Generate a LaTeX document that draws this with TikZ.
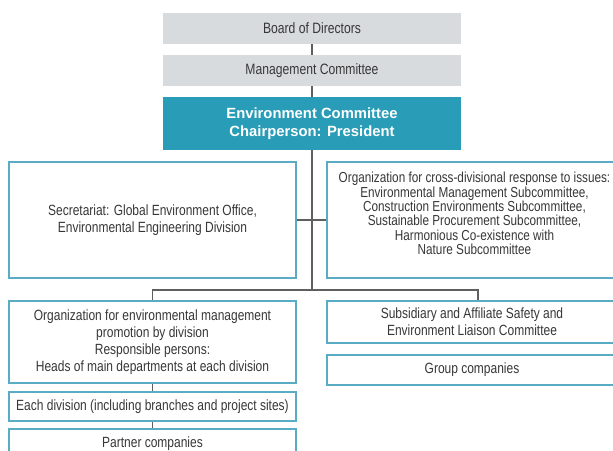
\documentclass[tikz,border=0pt]{standalone}
\usepackage{fontspec}
\setmainfont[FakeStretch=0.81]{Liberation Sans}
\newfontfamily\headfont{Liberation Sans}
\usepackage{tikz}
\usetikzlibrary{positioning,calc}
\definecolor{boardgrey}{RGB}{216,219,222}
\definecolor{envteal}{RGB}{41,156,183}
\definecolor{rimteal}{RGB}{90,172,196}
\definecolor{txtgrey}{RGB}{55,55,55}
\definecolor{linegrey}{RGB}{95,95,95}

\begin{document}
\begin{tikzpicture}[
    x=1pt, y=-1pt,
    greybox/.style={rectangle, fill=boardgrey, minimum width=298pt, minimum height=31pt, inner sep=0pt, text=txtgrey, font=\fontsize{15}{17}\selectfont},
    envbox/.style={rectangle, fill=envteal, minimum width=298pt, minimum height=53pt, inner sep=0pt, text=white, align=center, font=\headfont\bfseries\fontsize{14.8}{17.7}\selectfont},
    orgbox/.style={rectangle, draw=rimteal, line width=1.2pt, fill=white, inner sep=0pt, text=txtgrey, align=center, font=\fontsize{14.8}{17}\selectfont},
    link/.style={draw=linegrey, line width=1.3pt}
]
    \useasboundingbox (0,0) rectangle (613,450);
    \clip (0,0) rectangle (613,450);

    \node[greybox] (board) at (312,28.5) {Board of Directors};
    \node[greybox] (mgmt) at (312,70.5) {Management Committee};
    \node[envbox] (envc) at (312,123.5) {Environment Committee\\Chairperson: President};

    \node[orgbox, minimum width=287pt, minimum height=116pt] (secr) at (152.5,220) {Secretariat: Global Environment Office,\\Environmental Engineering Division};
    \node[orgbox, minimum width=290pt, minimum height=116pt] (cross) at (472,220) {};
    \node[text=txtgrey, align=center, inner sep=0pt, font=\fontsize{14.5}{14.3}\selectfont] (crosstxt) at (474.5,213.5) {Organization for cross-divisional response to issues:\\Environmental Management Subcommittee,\\Construction Environments Subcommittee,\\Sustainable Procurement Subcommittee,\\Harmonious Co-existence with\\Nature Subcommittee};

    \node[orgbox, minimum width=287pt, minimum height=82pt] (orgdiv) at (152.5,342) {Organization for environmental management\\promotion by division\\Responsible persons:\\Heads of main departments at each division};
    \node[orgbox, minimum width=287pt, minimum height=29pt] (eachdiv) at (152.5,406.5) {Each division (including branches and project sites)};
    \node[orgbox, minimum width=287pt, minimum height=29pt] (partner) at (152.5,443.5) {Partner companies};

    \node[orgbox, minimum width=290pt, minimum height=42pt] (subsid) at (472,322) {Subsidiary and Affiliate Safety and\\Environment Liaison Committee};
    \node[orgbox, minimum width=290pt, minimum height=30pt] (group) at (472,370) {Group companies};

    \coordinate (branch) at (312,290);
    \coordinate (rbend) at (478,290);

    % connectors
    \path[link] (board) -- (mgmt);
    \path[link] (mgmt) -- (envc);
    \path[link] (envc.south) -- (branch);
    \path[link] (secr.east) -- (cross.west);
    \path[link] (orgdiv.north) |- (rbend) -- (rbend |- subsid.north);
    \path[link] (orgdiv) -- (eachdiv);
    \path[link] (eachdiv) -- (partner);
\end{tikzpicture}
\end{document}
